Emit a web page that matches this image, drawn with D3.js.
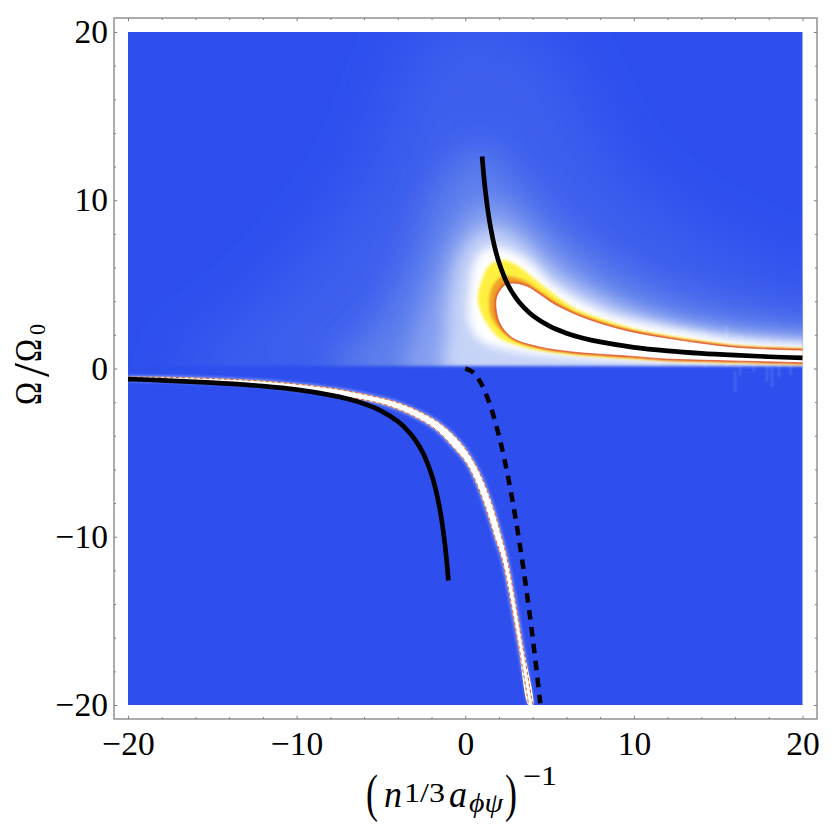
<!DOCTYPE html>
<html><head><meta charset="utf-8">
<script src="https://cdn.jsdelivr.net/npm/d3@7"></script>
<style>html,body{margin:0;padding:0;background:#fff}svg{display:block}text{font-family:"Liberation Serif",serif;fill:#000}</style>
</head><body><div id="chart"></div>
<script>
// axes
const xDomain=[-20,20], yDomain=[-20,20];
const majorTicks=[-20,-10,0,10,20];
const minorTicks=[-18,-16,-14,-12,-8,-6,-4,-2,2,4,6,8,12,14,16,18];
// black curves
const upperCurveX=[1,1.1,1.2,1.35,1.5,1.75,2,2.5,3,3.5,4,5,6,7,8,10,12,14,16,18,20];
const upperCurveY=[12.6,11.45,10.5,9.33,8.4,7.2,6.3,5.04,4.2,3.6,3.15,2.52,2.1,1.8,1.58,1.26,1.05,.9,.79,.7,.63];
const lowerCurveX=[-20,-18,-16,-14,-12,-10,-8,-7,-6,-5,-4,-3.5,-3,-2.5,-2,-1.75,-1.5,-1.35,-1.2,-1.1,-1];
const lowerCurveY=[-.63,-.7,-.79,-.9,-1.05,-1.26,-1.58,-1.8,-2.1,-2.52,-3.15,-3.6,-4.2,-5.04,-6.3,-7.2,-8.4,-9.33,-10.5,-11.45,-12.6];
const dashedX=[0,.5,1,1.5,2,2.5,3,3.5,4,4.45];
const dashedY=[0,-.25,-1,-2.25,-4,-6.25,-9,-12.25,-16,-19.9];
// contour outlines of the upper lobe, outermost first
const glowBroad=[[26,4],[20.6,5],[14,8],[9.16,11.8],[4.41,19.5],[-1.51,20.7],[-6.25,11],[-12,4],[-17,-.4],[26,-.4]];
const glowMid=[[26,2.2],[20.6,2.6],[15,3.6],[10.93,5],[6.19,8],[3.23,11],[.86,13.2],[-1.51,11],[-3.5,6],[-5.5,2.5],[-8,-.4],[26,-.4]];
const glowPale=[[26,1.7],[20.6,1.9],[14,2.6],[9.16,4.2],[5.3,6.9],[3.23,8.9],[1.16,9.9],[-.8,8],[-2,5],[-3,2],[-3.6,-.4],[26,-.4]];
const glowLight=[[26,1.4],[20.6,1.6],[14,2.3],[9.16,3.6],[5.4,5.6],[3.3,7.6],[1.4,8.4],[-.1,7.2],[-.9,4.7],[-1.1,2.2],[-1,-.4],[26,-.4]];
const glowWhite=[[26,1.3],[20.6,1.45],[16,1.75],[13.3,2.2],[10.5,2.75],[8.39,3.3],[5.42,4.84],[3.41,6.63],[1.63,7.22],[.7,6.6],[.25,4.6],[.25,2.7],[.86,1.69],[2.46,1.1],[6.37,.62],[10,.45],[13.3,.34],[20.6,.1],[26,.05]];
const lobeYellow=[[26,1.1],[20.6,1.2],[17.87,1.27],[15.85,1.4],[13.9,1.66],[11.94,1.97],[9.93,2.38],[7.97,3],[6.37,3.66],[4.41,5.08],[3.05,6.15],[2.22,6.45],[1.45,6.15],[.92,5.08],[.74,4.07],[.95,3.3],[1.26,2.69],[2.04,1.8],[3.64,1.22],[6.37,.8],[7.97,.68],[9.93,.56],[11.94,.44],[13.9,.38],[15.85,.33],[17.87,.29],[20.6,.22],[26,.15]];
const lobeOrange=[[26,1.04],[20.6,1.13],[17.87,1.2],[15.85,1.32],[13.9,1.57],[11.94,1.86],[9.93,2.24],[7.97,2.8],[6.37,3.4],[4.41,4.6],[3.64,5.15],[2.81,5.45],[2.15,5.45],[1.65,4.95],[1.45,4.35],[1.42,3.9],[1.55,3.05],[2.5,1.95],[4.41,1.2],[6.37,.92],[7.97,.78],[9.93,.66],[11.94,.52],[13.9,.46],[15.85,.41],[17.87,.36],[20.6,.29],[26,.22]];
const lobeCore=[[26,1],[20.6,1.08],[17.87,1.16],[15.85,1.28],[13.9,1.52],[11.94,1.81],[9.93,2.17],[7.97,2.7],[6.37,3.3],[5.19,3.89],[4.41,4.43],[3.64,4.9],[2.81,5.08],[2.34,4.96],[1.93,4.43],[1.81,3.89],[2.04,2.7],[2.81,1.81],[4.41,1.28],[6.37,.98],[7.97,.85],[9.93,.72],[11.94,.56],[13.9,.5],[15.85,.45],[17.87,.4],[20.6,.33],[26,.28]];
// the two edges of the lower ridge
const ridgeEdgeA=[[-20,-.51],[-17.33,-.53],[-14.55,-.62],[-11.76,-.77],[-7.85,-1.19],[-5.07,-1.74],[-3.88,-2.07],[-2.7,-2.57],[-1.51,-3.26],[-.33,-4.35],[.44,-5.44],[1.04,-6.63],[1.63,-8.21],[2.15,-10],[2.5,-11.38],[3.35,-16.14],[4,-20]];
const ridgeEdgeB=[[-20,-.68],[-17.33,-.74],[-14.55,-.86],[-11.76,-1.04],[-7.85,-1.55],[-5.07,-2.07],[-3.88,-2.47],[-2.7,-3.02],[-1.71,-3.66],[-.74,-4.65],[.07,-5.62],[.66,-6.81],[1.26,-8.41],[1.75,-10],[2.2,-11.38],[3.11,-16.14],[3.76,-20]];
// numerical noise streaks near the right edge: x, y from, y to
const streaks=[[11.5,.2,2.6],[13,.2,2.3],[14.2,.1,2.2],[15.5,.1,2.5],[16.3,-.4,2],[17.1,-.2,1.7],[17.9,-.8,1.9],[18.6,-.5,1.7],[19.3,-.4,1.6],[16,-1.4,-.1],[18.2,-1.1,.1]];
const colBack="#2f50ee", tickGrey="#808080";

const width=832,height=833;
const x=d3.scaleLinear().domain(xDomain).range([128,802.5]);
const y=d3.scaleLinear().domain(yDomain).range([705,32]);
const svg=d3.select("#chart").append("svg").attr("width",width).attr("height",height).attr("viewBox",[0,0,width,height]);
const defs=svg.append("defs");
function blur(id,sd){defs.append("filter").attr("id",id).attr("filterUnits","userSpaceOnUse").attr("x",0).attr("y",0).attr("width",width).attr("height",height)
  .append("feGaussianBlur").attr("stdDeviation",sd);return `url(#${id})`;}
const closed=d3.line().x(d=>x(d[0])).y(d=>y(d[1])).curve(d3.curveCatmullRomClosed.alpha(.5));
const open=d3.line().x(d=>x(d[0])).y(d=>y(d[1])).curve(d3.curveCatmullRom.alpha(.5));
defs.append("clipPath").attr("id","plot").append("rect").attr("x",x(-20)).attr("y",y(20)).attr("width",x(20)-x(-20)).attr("height",y(-20)-y(20));
defs.append("clipPath").attr("id","upper").append("rect").attr("x",x(-20)-20).attr("y",y(20)-20).attr("width",x(20)-x(-20)+40).attr("height",y(.15)-y(20)+20);

// field
svg.append("rect").attr("x",x(-20)).attr("y",y(20)).attr("width",x(20)-x(-20)).attr("height",y(-20)-y(20)).attr("fill",colBack).attr("filter",blur("bEdge",.5));
const field=svg.append("g").attr("clip-path","url(#plot)");
const soft=field.append("g").attr("filter",blur("bSoft",1.6)).append("g").attr("clip-path","url(#upper)");
const layers=[[glowBroad,"#3d5fee",30],[glowMid,"#5f80ec",18],[glowPale,"#87a0f0",11],[glowLight,"#c6d3f7",8],[glowWhite,"#ffffff",4.5]];
layers.forEach(([pts,c,sd],i)=>soft.append("path").attr("d",closed(pts)).attr("fill",c).attr("filter",blur("bL"+i,sd)));
blur("bS",1.2);
field.selectAll("line.s").data(streaks).join("line").attr("class","s")
  .attr("x1",d=>x(d[0])).attr("x2",d=>x(d[0])).attr("y1",d=>y(d[1])).attr("y2",d=>y(d[2]))
  .attr("stroke","#fff").attr("stroke-opacity",d=>d[1]<0?.18:.25).attr("stroke-width",1.6).attr("filter","url(#bS)");
field.append("path").attr("d",closed(lobeYellow)).attr("fill","#fff040").attr("filter",blur("bY",1.4));
field.append("path").attr("d",closed(lobeOrange)).attr("fill","#f0a028").attr("filter",blur("bO",1.4));
field.append("path").attr("d",closed(lobeCore)).attr("fill","none").attr("stroke","#d83a2a").attr("stroke-width",1.8).attr("filter",blur("bC",.8));
field.append("path").attr("d",closed(lobeCore)).attr("fill","#fff").attr("stroke","#dc4a35").attr("stroke-width",.7);

// lower ridge
blur("bR",1.5);
[ridgeEdgeA,ridgeEdgeB].forEach(e=>field.append("path").attr("d",open(e)).attr("fill","none").attr("stroke","#fff").attr("stroke-opacity",.5).attr("stroke-width",2.5).attr("filter","url(#bR)"));
const ridgeOutline=ridgeEdgeA.concat(ridgeEdgeB.slice().reverse());
field.append("path").attr("d",open(ridgeOutline)).attr("fill","#fff");
[ridgeEdgeA,ridgeEdgeB].forEach(e=>{
  field.append("path").attr("d",open(e)).attr("fill","none").attr("stroke","#f4d98a").attr("stroke-width",.9);
  field.append("path").attr("d",open(e)).attr("fill","none").attr("stroke","#d94a50").attr("stroke-width",.9).attr("stroke-dasharray","3 3");
});

// black curves
const pts=(xs,ys)=>xs.map((v,i)=>[v,ys[i]]);
svg.append("path").attr("d",open(pts(upperCurveX,upperCurveY))).attr("fill","none").attr("stroke","#000").attr("stroke-width",4.7);
svg.append("path").attr("d",open(pts(lowerCurveX,lowerCurveY))).attr("fill","none").attr("stroke","#000").attr("stroke-width",4.7);
svg.append("path").attr("d",open(pts(dashedX,dashedY))).attr("fill","none").attr("stroke","#000").attr("stroke-width",4.5).attr("stroke-dasharray","9.5 7.5");

// frame
const L=114,R=817,T=18,B=719;
function axis(gen,tr,pad,vals,size){
  const g=svg.append("g").attr("transform",tr).call(gen.tickValues(vals).tickSizeInner(-size).tickSizeOuter(0).tickPadding(pad));
  g.select(".domain").remove();
  g.selectAll(".tick line").attr("stroke",tickGrey).attr("stroke-width",1);
  return g;
}
const fs=33.5;
function style(g,show){g.selectAll("text").attr("font-size",fs).attr("font-family",'"Liberation Serif",serif').attr("fill","#000");if(!show)g.selectAll("text").remove();}
style(axis(d3.axisBottom(x),`translate(0,${B})`,12,majorTicks,3.2),true);
style(axis(d3.axisBottom(x),`translate(0,${B})`,0,minorTicks,2),false);
style(axis(d3.axisTop(x),`translate(0,${T})`,0,majorTicks,3.2),false);
style(axis(d3.axisTop(x),`translate(0,${T})`,0,minorTicks,2),false);
style(axis(d3.axisLeft(y),`translate(${L},0)`,6,majorTicks,3.2),true);
style(axis(d3.axisLeft(y),`translate(${L},0)`,0,minorTicks,2),false);
style(axis(d3.axisRight(y),`translate(${R},0)`,0,majorTicks,3.2),false);
style(axis(d3.axisRight(y),`translate(${R},0)`,0,minorTicks,2),false);
svg.append("rect").attr("x",L).attr("y",T).attr("width",R-L).attr("height",B-T).attr("fill","none").attr("stroke",tickGrey).attr("stroke-width",1.3);

// x title
const xTitle=svg.append("g").attr("class","x-title");
function piece(g,str,px,base,size,len,ital){
  const t=g.append("text").attr("x",px).attr("y",base).attr("font-size",size).text(str);
  if(ital)t.attr("font-style","italic");
  if(len)t.attr("textLength",len).attr("lengthAdjust","spacingAndGlyphs");
  return t;
}
piece(xTitle,"(",366,811,52,12,false);
piece(xTitle,"n",384,807,38,18,true);
piece(xTitle,"1/3",404,802,27,41,false);
piece(xTitle,"a",449,807,38,18,true);
piece(xTitle,"ϕψ",469,812,27,34,true);
piece(xTitle,")",505,811,52,12,false);
piece(xTitle,"−1",523,785,27,34,false);
// y title
const yTitle=svg.append("g").attr("class","y-title").attr("transform","translate(41,0) rotate(-90)");
piece(yTitle,"Ω",-405,0,38,23,false);
piece(yTitle,"/",-377,6.5,50,14,false);
piece(yTitle,"Ω",-362,0,38,23,false);
piece(yTitle,"0",-335,4,24,11,false);
</script></body></html>
